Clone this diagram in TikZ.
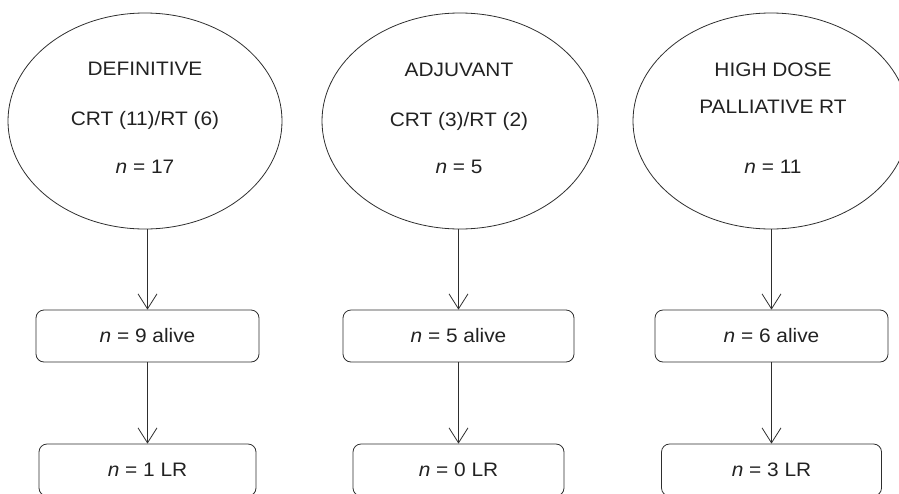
\documentclass[tikz,border=0pt]{standalone}
\usepackage{fontspec}
\setmainfont{Liberation Sans}[FakeStretch=1.07]
\usetikzlibrary{shapes.geometric,arrows.meta}
\definecolor{ln}{HTML}{2E2E2E}
\definecolor{tx}{HTML}{222222}
\tikzset{
  oval/.style={draw=ln,line width=0.8pt,ellipse,inner sep=0pt,minimum height=216pt},
  rbox/.style={draw=ln,line width=0.8pt,rounded corners=8pt,inner sep=0pt,minimum height=52pt,text=tx},
  lbl/.style={anchor=base,inner sep=0pt,text=tx},
  arr/.style={draw=ln,line width=0.8pt,-{Straight Barb[length=15pt,width=19pt,line width=0.8pt]}}
}
\begin{document}
\begin{tikzpicture}[x=1pt,y=-1pt,font=\fontsize{19.5}{23}\selectfont]
\useasboundingbox (0,0) rectangle (899,493);
\clip (0,0) rectangle (899,493);
% ovals
\node[oval,minimum width=274pt] (e1) at (145,121) {};
\node[oval,minimum width=276pt] (e2) at (460,121) {};
\node[oval,minimum width=276pt] (e3) at (771,121) {};
% oval texts
\node[lbl] (e1a) at (145,75) {DEFINITIVE};
\node[lbl] (e1b) at (145,125) {CRT (11)/RT (6)};
\node[lbl] (e1c) at (145,173) {\textit{n} = 17};
\node[lbl] (e2a) at (459,76) {ADJUVANT};
\node[lbl] (e2b) at (459,126) {CRT (3)/RT (2)};
\node[lbl] (e2c) at (459,173) {\textit{n} = 5};
\node[lbl] (e3a) at (773,76) {HIGH DOSE};
\node[lbl] (e3b) at (773,113) {PALLIATIVE RT};
\node[lbl] (e3c) at (773,173) {\textit{n} = 11};
% alive boxes
\node[rbox,minimum width=223pt] (a1) at (147.5,336) {\textit{n} = 9 alive};
\node[rbox,minimum width=231pt] (a2) at (458.5,336) {\textit{n} = 5 alive};
\node[rbox,minimum width=233pt] (a3) at (771.5,336) {\textit{n} = 6 alive};
% LR boxes
\node[rbox,minimum width=217pt] (l1) at (147.5,470) {\textit{n} = 1 LR};
\node[rbox,minimum width=211pt] (l2) at (458.5,470) {\textit{n} = 0 LR};
\node[rbox,minimum width=220pt] (l3) at (771.5,470) {\textit{n} = 3 LR};
% arrows
\draw[arr] (a1.north |- e1.south) -- (a1.north);
\draw[arr] (a2.north |- e2.south) -- (a2.north);
\draw[arr] (a3.north |- e3.south) -- (a3.north);
\draw[arr] (a1.south) -- (l1.north);
\draw[arr] (a2.south) -- (l2.north);
\draw[arr] (a3.south) -- (l3.north);
\end{tikzpicture}
\end{document}
